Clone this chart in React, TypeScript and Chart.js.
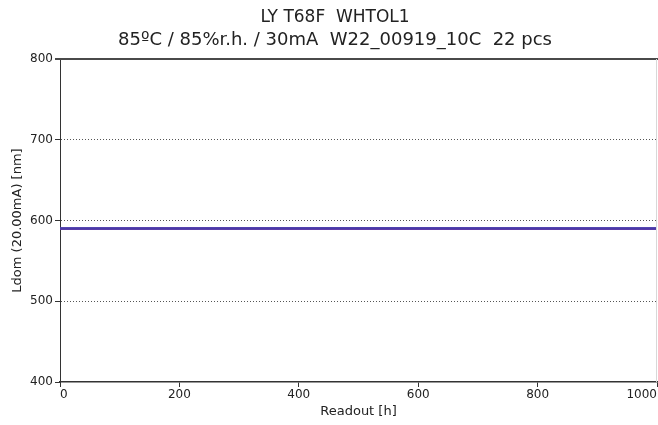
import React, { useEffect, useRef } from "react";
import { Chart, registerables } from "chart.js";

Chart.register(...registerables);

const titleLine1 = "LY T68F  WHTOL1";
const titleLine2 = "85ºC / 85%r.h. / 30mA  W22_00919_10C  22 pcs";
const xTitle = "Readout [h]";
const yTitle = "Ldom (20.00mA) [nm]";

const readouts = [0, 168, 500, 1000];
const seriesA = [590.2, 590.1, 590.3, 590.2];
const seriesB = [589.9, 590.0, 589.8, 589.9];
const seriesC = [590.4, 590.3, 590.4, 590.3];
const seriesD = [589.7, 589.8, 589.7, 589.8];
const seriesColors = ["#4a3aa8", "#6a35a6", "#3f46b8", "#5b2f9a"];

const xTicks = [0, 200, 400, 600, 800, 1000];
const yTicks = [400, 500, 600, 700, 800];

const FONT = "'DejaVu Sans', sans-serif";

export default function App() {
  const ref = useRef<HTMLCanvasElement | null>(null);
  useEffect(() => {
    const canvas = ref.current;
    if (!canvas) return;
    const series = [seriesA, seriesB, seriesC, seriesD];
    const titlePlugin = {
      id: "customDecor",
      afterDraw(chart: any) {
        const ctx = chart.ctx;
        const area = chart.chartArea;
        ctx.save();
        ctx.strokeStyle = "#4a4a4a";
        ctx.lineWidth = 2;
        ctx.beginPath();
        ctx.moveTo(55, area.top);
        ctx.lineTo(area.right + 1, area.top);
        ctx.stroke();
        ctx.strokeStyle = "#d8d8d8";
        ctx.lineWidth = 1;
        ctx.beginPath();
        ctx.moveTo(area.right - 0.5, area.top);
        ctx.lineTo(area.right - 0.5, area.bottom);
        ctx.stroke();
        ctx.fillStyle = "#222";
        ctx.textAlign = "center";
        ctx.textBaseline = "middle";
        ctx.font = `17px ${FONT}`;
        ctx.fillText(titleLine1, 335, 18);
        ctx.font = `18px ${FONT}`;
        ctx.fillText(titleLine2, 335, 40);
        ctx.restore();
      },
    };
    const chart = new Chart(canvas, {
      type: "line",
      data: {
        datasets: series.map((s, i) => ({
          label: "S" + (i + 1),
          data: readouts.map((x, j) => ({ x, y: s[j] })),
          borderColor: seriesColors[i],
          borderWidth: 2,
          pointRadius: 0,
          fill: false,
          tension: 0,
        })),
      },
      options: {
        animation: false,
        responsive: false,
        events: [],
        layout: { padding: { top: 59, right: 1, left: 0, bottom: 0 } },
        plugins: {
          legend: { display: false },
          tooltip: { enabled: false },
          title: { display: false },
        },
        scales: {
          x: {
            type: "linear",
            min: 0,
            max: 1000,
            afterBuildTicks(scale: any) {
              scale.ticks = xTicks.map((v) => ({ value: v }));
            },
            afterFit(scale: any) {
              scale.height = 43;
              scale.paddingLeft = 0;
              scale.paddingRight = 0;
            },
            ticks: {
              align: "inner",
              color: "#222",
              font: { family: FONT, size: 12 },
              padding: 1,
              maxRotation: 0,
              callback: (v: any) => String(v),
            },
            grid: {
              display: true,
              drawOnChartArea: false,
              drawTicks: true,
              tickLength: 5,
              tickColor: "#333",
              color: "#333",
            },
            border: { display: true, color: "#333", width: 1.5 },
            title: {
              display: true,
              text: xTitle,
              color: "#222",
              font: { family: FONT, size: 13 },
              padding: { top: 0, bottom: 6 },
            },
          },
          y: {
            type: "linear",
            min: 400,
            max: 800,
            afterBuildTicks(scale: any) {
              scale.ticks = yTicks.map((v) => ({ value: v }));
            },
            afterFit(scale: any) {
              scale.width = 60;
              scale.paddingTop = 0;
              scale.paddingBottom = 0;
            },
            ticks: {
              color: "#222",
              font: { family: FONT, size: 12 },
              padding: 2,
              callback: (v: any) => String(v),
            },
            grid: {
              display: true,
              drawTicks: true,
              tickLength: 5,
              tickColor: "#333",
              lineWidth: 1,
              color: (ctx: any) => {
                const v = ctx.tick && ctx.tick.value;
                return v === 400 || v === 800 ? "rgba(0,0,0,0)" : "#555";
              },
            },
            border: { display: true, color: "#333", width: 1, dash: [1, 2] },
            title: {
              display: true,
              text: yTitle,
              color: "#222",
              font: { family: FONT, size: 13 },
              padding: { top: 10, bottom: 0 },
            },
          },
        },
      },
      plugins: [titlePlugin],
    } as any);
    return () => chart.destroy();
  }, []);
  return (
    <div style={{ position: "fixed", left: 0, top: 0, width: 658, height: 425, background: "#fff" }}>
      <canvas ref={ref} width={658} height={425} style={{ width: 658, height: 425, display: "block" }} />
    </div>
  );
}
